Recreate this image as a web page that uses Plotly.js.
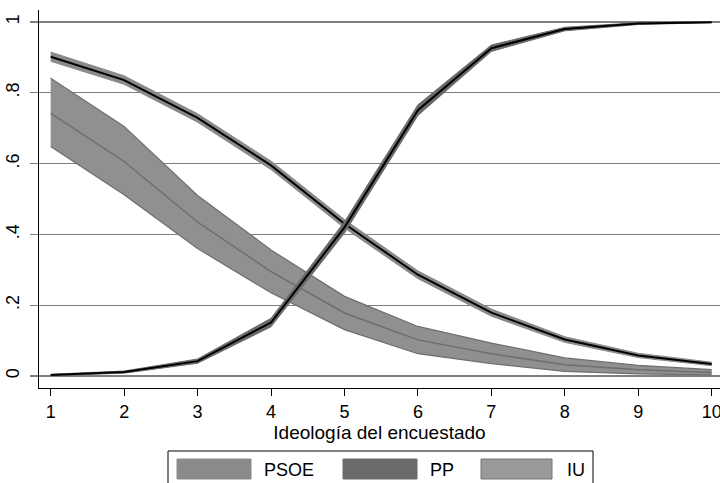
<!DOCTYPE html>
<html>
<head>
<meta charset="utf-8">
<script src="https://cdn.plot.ly/plotly-3.0.1.min.js"></script>
<style>html,body{margin:0;padding:0;background:#fff;}#chart{width:720px;height:483px;}</style>
</head>
<body>
<div id="chart"></div>
<script>
// ---- data ----
const ideologia = [1, 2, 3, 4, 5, 6, 7, 8, 9, 10];

const psoe    = [0.902, 0.836, 0.729, 0.595, 0.430, 0.286, 0.179, 0.103, 0.058, 0.034];
const psoe_lo = [0.889, 0.824, 0.717, 0.583, 0.418, 0.275, 0.169, 0.095, 0.052, 0.029];
const psoe_hi = [0.915, 0.848, 0.741, 0.607, 0.442, 0.297, 0.189, 0.111, 0.064, 0.039];

const pp    = [0.003, 0.011, 0.042, 0.151, 0.420, 0.751, 0.926, 0.980, 0.996, 0.999];
const pp_lo = [0.001, 0.008, 0.036, 0.139, 0.404, 0.736, 0.917, 0.975, 0.993, 0.998];
const pp_hi = [0.005, 0.014, 0.048, 0.163, 0.436, 0.766, 0.935, 0.985, 0.998, 1.000];

const iu    = [0.742, 0.606, 0.435, 0.295, 0.178, 0.102, 0.063, 0.032, 0.018, 0.010];
const iu_lo = [0.648, 0.512, 0.360, 0.235, 0.131, 0.063, 0.035, 0.013, 0.006, 0.003];
const iu_hi = [0.841, 0.705, 0.510, 0.356, 0.225, 0.140, 0.093, 0.051, 0.030, 0.018];

const yTickVals = [0, 0.2, 0.4, 0.6, 0.8, 1];
const yTickText = ['0', '.2', '.4', '.6', '.8', '1'];
const xTitle = 'Ideología del encuestado';
const seriesNames = ['PSOE', 'PP', 'IU'];

// ---- styling ----
const FONT = 'Liberation Sans, Arial, Helvetica, sans-serif';
const W = 720, H = 483;
const M = {l: 39, r: 0, t: 10, b: 95};
const plotW = W - M.l - M.r, plotH = H - M.t - M.b;
const px = v => (v - M.l) / plotW;
const py = v => (H - M.b - v) / plotH;

function band(lo, hi, fill, edge, edgeW) {
  return [
    {x: ideologia, y: lo, type: 'scatter', mode: 'lines', line: {color: edge, width: edgeW}, hoverinfo: 'skip', showlegend: false},
    {x: ideologia, y: hi, type: 'scatter', mode: 'lines', fill: 'tonexty', fillcolor: fill, line: {color: edge, width: edgeW}, hoverinfo: 'skip', showlegend: false}
  ];
}

const traces = [
  ...band(iu_lo, iu_hi, '#909090', '#6e6e6e', 1.2),
  {x: ideologia, y: iu, type: 'scatter', mode: 'lines', name: 'IU', line: {color: '#6e6e6e', width: 1.5}, showlegend: false},
  ...band(psoe_lo, psoe_hi, '#8a8a8a', '#8a8a8a', 1),
  {x: ideologia, y: psoe, type: 'scatter', mode: 'lines', name: 'PSOE', line: {color: '#000000', width: 2}, showlegend: false},
  ...band(pp_lo, pp_hi, '#6a6a6a', '#6a6a6a', 1),
  {x: ideologia, y: pp, type: 'scatter', mode: 'lines', name: 'PP', line: {color: '#000000', width: 2}, showlegend: false}
];

// manual legend (Stata style box below the plot)
const swatchFill = ['#8a8a8a', '#6a6a6a', '#999999'];
const swatchLine = ['#8a8a8a', '#6a6a6a', '#777777'];
const swatchX = [[177, 251], [343, 417], [481, 552]];
const textX = [262, 428, 565];

const shapes = [
  {type: 'rect', xref: 'paper', yref: 'paper', x0: px(168), x1: px(593), y0: py(451), y1: py(495), line: {color: '#000', width: 1}, fillcolor: 'rgba(0,0,0,0)'}
];
const annotations = [];
seriesNames.forEach((n, i) => {
  shapes.push({type: 'rect', xref: 'paper', yref: 'paper', x0: px(swatchX[i][0]), x1: px(swatchX[i][1]), y0: py(459), y1: py(479), fillcolor: swatchFill[i], line: {color: swatchLine[i], width: 1}});
  annotations.push({xref: 'paper', yref: 'paper', x: px(textX[i]), y: py(469.5), xanchor: 'left', yanchor: 'middle', text: n, showarrow: false, font: {family: FONT, size: 18, color: '#000'}});
});

const layout = {
  width: W, height: H,
  margin: M,
  paper_bgcolor: '#fff', plot_bgcolor: '#fff',
  font: {family: FONT, size: 18, color: '#000'},
  showlegend: false,
  xaxis: {
    range: [0.841, 10.113], tickvals: ideologia, ticks: 'outside', ticklen: 7, tickcolor: '#000', tickwidth: 1,
    showgrid: false, zeroline: false, showline: true, linecolor: '#000', linewidth: 1,
    tickfont: {family: FONT, size: 18}, ticklabeloverflow: 'allow', fixedrange: true,
    title: {text: xTitle, font: {family: FONT, size: 19}, standoff: 5}
  },
  yaxis: {
    range: [-0.0339, 1.0339], tickvals: yTickVals, ticktext: yTickText, tickangle: -90,
    ticks: 'outside', ticklen: 8, tickcolor: '#7f7f7f', tickwidth: 1.3,
    showgrid: true, gridcolor: '#7f7f7f', gridwidth: 1.3, zeroline: false,
    showline: true, linecolor: '#000', linewidth: 1,
    tickfont: {family: FONT, size: 18}, ticklabelstandoff: 4, fixedrange: true
  },
  shapes: shapes,
  annotations: annotations
};

Plotly.newPlot('chart', traces, layout, {staticPlot: true, displayModeBar: false});
</script>
</body>
</html>
